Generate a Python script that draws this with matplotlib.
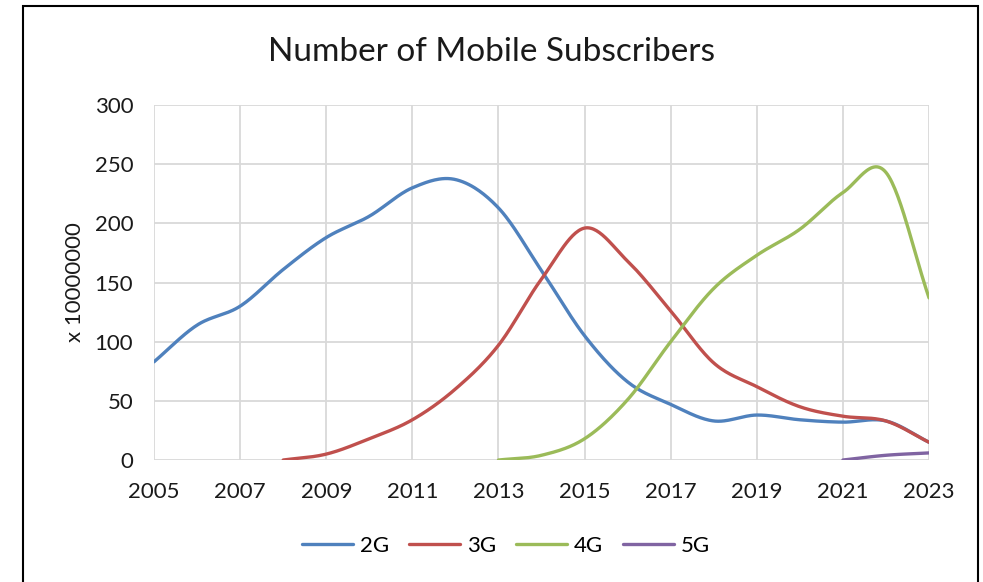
import numpy as np
import matplotlib.pyplot as plt
from matplotlib.patches import Rectangle

years_2g = list(range(2005, 2024))
subs_2g = [83, 114, 130, 161, 188, 206, 230, 237, 213, 160, 105, 66, 47, 33, 38, 34, 32, 33, 15]

years_3g = list(range(2008, 2024))
subs_3g = [0, 5, 18, 34, 60, 97, 153, 196, 168, 126, 82, 62, 45, 37, 33, 15]

years_4g = list(range(2013, 2024))
subs_4g = [0, 4, 18, 51, 100, 145, 173, 195, 226, 243, 137]

years_5g = [2021, 2022, 2023]
subs_5g = [0, 4, 6]

series = [("2G", years_2g, subs_2g, "#4F81BD"),
          ("3G", years_3g, subs_3g, "#C0504D"),
          ("4G", years_4g, subs_4g, "#9BBB59"),
          ("5G", years_5g, subs_5g, "#8064A2")]


def smooth(x, y, n=30):
    # catmull-rom through the points, close to excel's smoothed line
    x = np.asarray(x, float)
    y = np.asarray(y, float)
    px = np.concatenate([[2 * x[0] - x[1]], x, [2 * x[-1] - x[-2]]])
    py = np.concatenate([[2 * y[0] - y[1]], y, [2 * y[-1] - y[-2]]])
    xs, ys = [], []
    t = np.linspace(0, 1, n)
    for i in range(1, len(px) - 2):
        for p, out in ((px, xs), (py, ys)):
            p0, p1, p2, p3 = p[i - 1], p[i], p[i + 1], p[i + 2]
            out.extend(0.5 * (2 * p1 + (-p0 + p2) * t
                              + (2 * p0 - 5 * p1 + 4 * p2 - p3) * t ** 2
                              + (-p0 + 3 * p1 - 3 * p2 + p3) * t ** 3))
    return np.array(xs), np.array(ys)


plt.rcParams['font.family'] = ['Lato', 'DejaVu Sans']

fig = plt.figure(figsize=(9.83, 5.82), dpi=100)
ax = fig.add_axes([0.1567, 0.2096, 0.7884, 0.61])

for name, xs, ys, col in series:
    sx, sy = smooth(xs, ys)
    ax.plot(sx, sy, color=col, lw=2.4, label=name, solid_capstyle='round')

ax.set_xlim(2005, 2023)
ax.set_ylim(0, 300)
ax.set_xticks(range(2005, 2024, 2))
ax.set_yticks(range(0, 301, 50))
ax.grid(True, color="#D9D9D9", lw=1.3)
ax.set_axisbelow(True)
for s in ax.spines.values():
    s.set_visible(False)
ax.tick_params(length=0, labelsize=16, colors="#1a1a1a")
ax.tick_params(axis='x', pad=16)
ax.tick_params(axis='y', pad=15)
ax.set_ylabel("x 10000000", fontsize=16, color="#1a1a1a", labelpad=7)

fig.suptitle("Number of Mobile Subscribers", fontsize=24, color="#1a1a1a",
             y=0.91, va='center')

ax.legend(loc="center", bbox_to_anchor=(0.454, -0.242), ncol=4, frameon=False,
          fontsize=16, handlelength=2.3, columnspacing=0.9, handletextpad=0.3)

fig.patches.append(Rectangle((0.023, -0.01), 0.972, 1.0, transform=fig.transFigure,
                             fill=False, edgecolor="black", lw=1.5))

fig.savefig("out.png", dpi=100)
